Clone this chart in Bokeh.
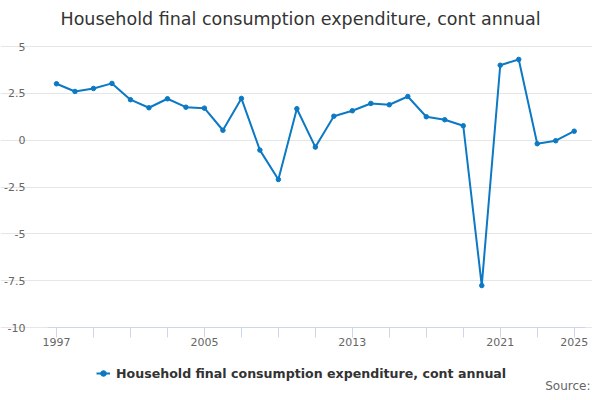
from bokeh.plotting import figure
from bokeh.models import Label, Legend, LegendItem, FixedTicker, Range1d
from bokeh.embed import file_html
from bokeh.resources import INLINE

years = list(range(1997, 2026))
values = [3.01, 2.60, 2.76, 3.03, 2.16, 1.73, 2.21, 1.76, 1.71, 0.53,
          2.23, -0.53, -2.10, 1.68, -0.37, 1.28, 1.57, 1.96, 1.89, 2.33,
          1.25, 1.09, 0.77, -7.76, 4.00, 4.31, -0.19, -0.03, 0.48]
series_name = "Household final consumption expenditure, cont annual"
title_text = "Household final consumption expenditure, cont annual"
source_text = "Source:"
y_ticks = [-10, -7.5, -5, -2.5, 0, 2.5, 5]
y_tick_labels = ["-10", "-7.5", "-5", "-2.5", "0", "2.5", "5"]
x_ticks = list(range(1997, 2026, 2))
x_labelled = ["1997", "2005", "2013", "2021", "2025"]

FONT = "DejaVu Sans"
LINE_COLOR = "#0b79c4"

W, H = 592, 392
# plot-area geometry in figure pixels
PLOT_L, PLOT_R = 47, 585
TOP_PX, BOTTOM_PX = 46, 327           # rows of y=5 and y=-10
FIRST_PX, LAST_PX = 56, 573.7         # columns of first and last year
Y_MIN, Y_MAX = -10, 5
ppu = (BOTTOM_PX - TOP_PX) / (Y_MAX - Y_MIN)
y_lo = Y_MIN - (H - BOTTOM_PX) / ppu
y_hi = Y_MAX + TOP_PX / ppu
ppy = (LAST_PX - FIRST_PX) / (years[-1] - years[0])
x_lo = years[0] - FIRST_PX / ppy
x_hi = years[0] + (W - FIRST_PX) / ppy
plot_x0 = years[0] - (FIRST_PX - PLOT_L) / ppy
plot_x1 = years[0] + (PLOT_R - FIRST_PX) / ppy

p = figure(width=W, height=H, output_backend="svg", toolbar_location=None,
           x_range=Range1d(x_lo, x_hi), y_range=Range1d(y_lo, y_hi),
           min_border_left=0, min_border_right=0, min_border_top=0,
           min_border_bottom=0, outline_line_color=None, title=None)
p.background_fill_color = "white"
p.border_fill_color = "white"

# grid
p.xgrid.grid_line_color = None
p.ygrid.grid_line_color = "#e6e6e6"
p.ygrid.grid_line_width = 1
p.ygrid.bounds = (plot_x0, plot_x1)

# y axis pinned at the plot's left edge
p.yaxis.fixed_location = plot_x0
p.yaxis.ticker = FixedTicker(ticks=y_ticks)
p.yaxis.major_label_overrides = {t: l for t, l in zip(y_ticks, y_tick_labels)}
p.yaxis.axis_line_color = None
p.yaxis.major_tick_line_color = None
p.yaxis.minor_tick_line_color = None
p.yaxis.major_label_standoff = 16
p.yaxis.major_label_text_font = FONT
p.yaxis.major_label_text_font_size = "11px"
p.yaxis.major_label_text_color = "#666666"

# x axis pinned at y = -10
p.xaxis.fixed_location = Y_MIN
p.xaxis.bounds = (plot_x0, plot_x1)
p.xaxis.ticker = FixedTicker(ticks=x_ticks)
p.xaxis.major_label_overrides = {t: (str(t) if str(t) in x_labelled else "") for t in x_ticks}
p.xaxis.axis_line_color = "#ccd6eb"
p.xaxis.major_tick_line_color = "#ccd6eb"
p.xaxis.major_tick_in = 0
p.xaxis.major_tick_out = 10
p.xaxis.minor_tick_line_color = None
p.xaxis.major_label_standoff = 0
p.xaxis.major_label_text_font = FONT
p.xaxis.major_label_text_font_size = "11px"
p.xaxis.major_label_text_color = "#666666"

r_line = p.line(years, values, line_color=LINE_COLOR, line_width=2)
r_pts = p.scatter(years, values, size=4.5, fill_color=LINE_COLOR, line_color=LINE_COLOR)

legend = Legend(items=[LegendItem(label=series_name, renderers=[r_line, r_pts])],
                location=(96, 11), orientation="horizontal",
                border_line_color=None, background_fill_alpha=0,
                padding=0, margin=0, spacing=0,
                glyph_width=14, glyph_height=16, label_height=16,
                label_standoff=6,
                label_text_font=FONT, label_text_font_size="12.6px",
                label_text_font_style="bold", label_text_color="#333333")
p.add_layout(legend)

title = Label(x=60, y=H - 18, x_units="screen", y_units="screen", text=title_text,
              text_align="left", text_baseline="middle",
              text_font=FONT, text_font_size="17.5px", text_color="#333333")
p.add_layout(title)

src = Label(x=590, y=7, x_units="screen", y_units="screen", text=source_text,
            text_align="right", text_baseline="middle",
            text_font=FONT, text_font_size="12px", text_color="#666666")
p.add_layout(src)

open("out.html", "w").write(file_html(p, INLINE))
